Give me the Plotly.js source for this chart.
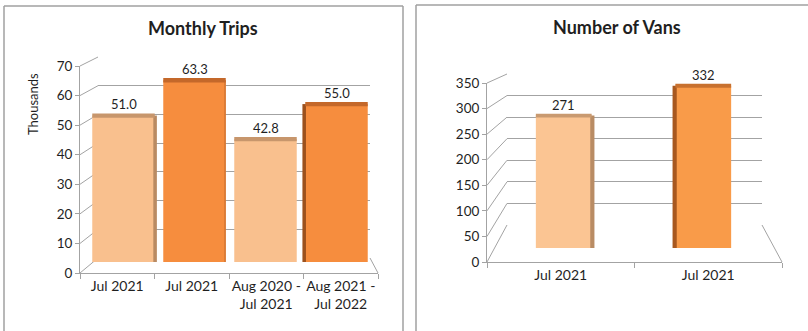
<!DOCTYPE html>
<html>
<head>
<meta charset="utf-8">
<script src="https://cdn.plot.ly/plotly-3.0.1.min.js"></script>
<style>html,body{margin:0;padding:0;background:#fff}#chart{width:808px;height:331px}</style>
</head>
<body>
<div id="chart"></div>
<script>
// ---- data ----
const tripLabels = ["Jul 2021", "Jul 2021", "Aug 2020 -<br>Jul 2021", "Aug 2021 -<br>Jul 2022"];
const tripValues = [51.0, 63.3, 42.8, 55.0];
const tripTicks = [0, 10, 20, 30, 40, 50, 60, 70];
const vanLabels = ["Jul 2021", "Jul 2021"];
const vanValues = [271, 332];
const vanTicks = [0, 50, 100, 150, 200, 250, 300, 350];

// ---- styles ----
const W = 808, H = 331;
const FONT = "Lato, 'Open Sans', sans-serif";
const TXT = "#1f1f1f";
const LINE = "#a3a3a3";
const tripColors = ["#f9c08e", "#f68d3e", "#f9c08e", "#f68d3e"];
const tripCapColors = ["#c7966c", "#c4682a", "#c7966c", "#c4682a"];
const tripSideColors = ["#b98a62", "#d27432", "#f9c08e", "#9c511d"];
const tripSideOffset = [0.42, 0.42, 0.42, -0.48];
const tripSideWidth = [0.05, 0.02, 0, 0.05];
const tripCap = 1.5;
const vanColors = ["#fbc593", "#f99b49"];
const vanCapColors = ["#c99a70", "#c8712f"];
const vanSideColors = ["#b98c64", "#a8581f"];
const vanSideOffset = [0.19, -0.22];
const vanSideWidth = [0.03, 0.03];
const vanCap = 8;

const px = x => x / W;
const py = y => 1 - y / H;

// panel geometry (pixels)
const G1 = {front: {x0: 80, x1: 378, y0: 273, yTop: 66}, back: {x0: 98, x1: 370, y0: 258, yTop: 57},
            bars: {x0: 88, x1: 372, y0: 262, yTop: 61}, max: 70};
const G2 = {front: {x0: 487, x1: 782, y0: 262, yTop: 83}, back: {x0: 507, x1: 762, y0: 225, yTop: 74},
            bars: {x0: 494, x1: 773, y0: 248, yTop: 77}, max: 350};

function fy(g, part, v) { const p = g[part]; return p.y0 - (p.y0 - p.yTop) * v / g.max; }

const shapes = [];
function sideLines(g, ticks) {
  ticks.forEach(v => {
    shapes.push({type: "line", xref: "paper", yref: "paper", x0: px(g.front.x0), y0: py(fy(g, "front", v)),
      x1: px(g.back.x0), y1: py(fy(g, "back", v)), line: {color: LINE, width: 1}, layer: "below"});
  });
  shapes.push({type: "line", xref: "paper", yref: "paper", x0: px(g.front.x1), y0: py(g.front.y0),
    x1: px(g.back.x1), y1: py(g.back.y0), line: {color: LINE, width: 1}, layer: "below"});
}
sideLines(G1, tripTicks);
sideLines(G2, vanTicks);

// panel borders
const B = "#a0a0a0";
[[4, 6, 403, 6], [4, 6, 4, 331], [403, 6, 403, 331], [416, 5, 808, 5], [416, 5, 416, 331]].forEach(s => {
  shapes.push({type: "line", xref: "paper", yref: "paper", x0: px(s[0]), y0: py(s[1]), x1: px(s[2]), y1: py(s[3]),
    line: {color: B, width: 1.5}});
});

const idx1 = tripValues.map((_, i) => i);
const idx2 = vanValues.map((_, i) => i);

// subplot order: back wall (x,y / x4,y4), front axes (x2,y2 / x5,y5), bars on top (x3,y3 / x6,y6)
const traces = [
  {type: "scatter", x: [], y: [], xaxis: "x", yaxis: "y", hoverinfo: "skip"},
  {type: "scatter", x: [], y: [], xaxis: "x2", yaxis: "y2", hoverinfo: "skip"},
  {type: "scatter", x: [], y: [], xaxis: "x4", yaxis: "y4", hoverinfo: "skip"},
  {type: "scatter", x: [], y: [], xaxis: "x5", yaxis: "y5", hoverinfo: "skip"},
  {type: "bar", x: idx1, y: tripValues, xaxis: "x3", yaxis: "y3", width: 0.88,
   marker: {color: tripColors, line: {width: 0}}, hoverinfo: "skip"},
  {type: "bar", x: idx1, y: tripValues, xaxis: "x3", yaxis: "y3", width: tripSideWidth, offset: tripSideOffset,
   marker: {color: tripSideColors, line: {width: 0}}, hoverinfo: "skip"},
  {type: "bar", x: idx1, y: tripValues.map(() => tripCap), base: tripValues.map(v => v - tripCap / 2), xaxis: "x3", yaxis: "y3", width: 0.88,
   marker: {color: tripCapColors, line: {width: 0}}, hoverinfo: "skip"},
  {type: "bar", x: idx2, y: vanValues, xaxis: "x6", yaxis: "y6", width: 0.4,
   marker: {color: vanColors, line: {width: 0}}, hoverinfo: "skip"},
  {type: "bar", x: idx2, y: vanValues, xaxis: "x6", yaxis: "y6", width: vanSideWidth, offset: vanSideOffset,
   marker: {color: vanSideColors, line: {width: 0}}, hoverinfo: "skip"},
  {type: "bar", x: idx2, y: vanValues.map(() => vanCap), base: vanValues.map(v => v - vanCap / 2), xaxis: "x6", yaxis: "y6", width: 0.4,
   marker: {color: vanCapColors, line: {width: 0}}, hoverinfo: "skip"}
];

function hiddenX(g, part, anchor, n) {
  return {domain: [px(g[part].x0), px(g[part].x1)], range: [-0.5, n - 0.5], visible: false, anchor: anchor, fixedrange: true};
}
function hiddenY(g, part, anchor) {
  return {domain: [py(g[part].y0), py(g[part].yTop)], range: [0, g.max], visible: false, anchor: anchor, fixedrange: true};
}
function frontX(g, anchor, labels) {
  const n = labels.length;
  return {domain: [px(g.front.x0), px(g.front.x1)], range: [-0.5, n - 0.5], anchor: anchor,
    tickmode: "array", tickvals: labels.map((_, i) => i), ticktext: labels, ticks: "",
    showline: true, linecolor: LINE, linewidth: 1, showgrid: false, zeroline: false,
    tickfont: {family: FONT, size: 14, color: TXT},
    minor: {tickmode: "array", tickvals: Array.from({length: n + 1}, (_, i) => i - 0.5), ticks: "outside", ticklen: 5, tickcolor: LINE, showgrid: false},
    fixedrange: true};
}
function frontY(g, anchor, ticks) {
  return {domain: [py(g.front.y0), py(g.front.yTop)], range: [0, g.max], anchor: anchor,
    tickmode: "array", tickvals: ticks, ticks: "outside", ticklen: 4, tickcolor: LINE,
    showline: true, linecolor: LINE, linewidth: 1, showgrid: false, zeroline: false,
    tickfont: {family: FONT, size: 13.5, color: TXT}, fixedrange: true};
}
function backY(g, anchor, ticks) {
  return {domain: [py(g.back.y0), py(g.back.yTop)], range: [0, g.max], anchor: anchor,
    tickmode: "array", tickvals: ticks, showticklabels: false, ticks: "", showline: false,
    showgrid: true, gridcolor: LINE, gridwidth: 1, zeroline: false, fixedrange: true};
}
function backX(g, anchor) {
  return {domain: [px(g.back.x0), px(g.back.x1)], visible: false, anchor: anchor, range: [0, 1], fixedrange: true};
}

const annotations = [
  {text: "<b>Monthly Trips</b>", xref: "paper", yref: "paper", x: px(203), y: py(28), xanchor: "center", yanchor: "middle",
   showarrow: false, font: {family: FONT, size: 18, color: TXT}},
  {text: "<b>Number of Vans</b>", xref: "paper", yref: "paper", x: px(617), y: py(27), xanchor: "center", yanchor: "middle",
   showarrow: false, font: {family: FONT, size: 18, color: TXT}},
  {text: "Thousands", xref: "paper", yref: "paper", x: px(33), y: py(104), xanchor: "center", yanchor: "middle",
   showarrow: false, textangle: -90, font: {family: FONT, size: 13, color: TXT}}
];
tripValues.forEach((v, i) => annotations.push({text: v.toFixed(1), xref: "x3", yref: "y3", x: i, y: v + tripCap / 2,
  xanchor: "center", yanchor: "bottom", yshift: -1, showarrow: false, font: {family: FONT, size: 13, color: TXT}}));
vanValues.forEach((v, i) => annotations.push({text: String(v), xref: "x6", yref: "y6", x: i, y: v + vanCap / 2,
  xanchor: "center", yanchor: "bottom", yshift: -1, showarrow: false, font: {family: FONT, size: 13, color: TXT}}));

const layout = {
  width: W, height: H, margin: {l: 0, r: 0, t: 0, b: 0}, paper_bgcolor: "#fff", plot_bgcolor: "rgba(0,0,0,0)",
  showlegend: false, barmode: "overlay", font: {family: FONT, color: TXT},
  xaxis: backX(G1, "y"), yaxis: backY(G1, "x", tripTicks),
  xaxis2: frontX(G1, "y2", tripLabels), yaxis2: frontY(G1, "x2", tripTicks),
  xaxis3: hiddenX(G1, "bars", "y3", 4), yaxis3: hiddenY(G1, "bars", "x3"),
  xaxis4: backX(G2, "y4"), yaxis4: backY(G2, "x4", vanTicks),
  xaxis5: frontX(G2, "y5", vanLabels), yaxis5: frontY(G2, "x5", vanTicks),
  xaxis6: hiddenX(G2, "bars", "y6", 2), yaxis6: hiddenY(G2, "bars", "x6"),
  shapes: shapes,
  annotations: annotations
};

Plotly.newPlot("chart", traces, layout, {staticPlot: true, displayModeBar: false});
</script>
</body>
</html>
